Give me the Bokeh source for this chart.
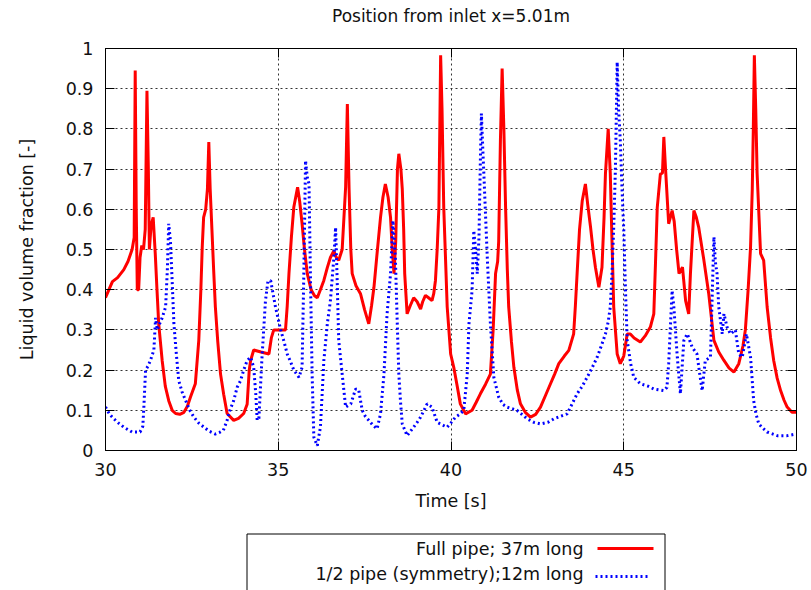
from bokeh.plotting import figure
from bokeh.layouts import column
from bokeh.models import LinearAxis, FixedTicker, NumeralTickFormatter, Range1d
from bokeh.core.properties import value
from bokeh.embed import file_html
from bokeh.resources import INLINE

FONT = "DejaVu Sans"

title_text = "Position from inlet x=5.01m"
x_label = "Time [s]"
y_label = "Liquid volume fraction [-]"
series_labels = ["Full pipe; 37m long", "1/2 pipe (symmetry);12m long"]
series_colors = ["#ff0000", "#0000ff"]
x_ticks = [30, 35, 40, 45, 50]
y_ticks = [0, 0.1, 0.2, 0.3, 0.4, 0.5, 0.6, 0.7, 0.8, 0.9, 1]

# Full pipe (red)
full_t = [30.00, 30.10, 30.20, 30.35, 30.53, 30.65, 30.77, 30.83, 30.86, 30.89, 30.92, 30.96,
          31.00, 31.05, 31.10, 31.15, 31.20, 31.24, 31.27, 31.32, 31.38, 31.44, 31.49, 31.54,
          31.64, 31.73, 31.83, 31.93, 32.03, 32.15, 32.27, 32.37, 32.46, 32.60, 32.70, 32.76,
          32.80, 32.84, 32.90, 32.95, 32.99, 33.03, 33.08, 33.13, 33.18, 33.25, 33.33, 33.42,
          33.52, 33.71, 33.85, 34.00, 34.10, 34.16, 34.20, 34.29, 34.50, 34.73, 34.80, 34.87,
          35.21, 35.26, 35.31, 35.38, 35.45, 35.56, 35.62, 35.69, 35.76, 35.84, 35.95, 36.05,
          36.13, 36.22, 36.32, 36.42, 36.51, 36.61, 36.68, 36.75, 36.85, 36.95, 37.00, 37.05,
          37.10, 37.14, 37.25, 37.38, 37.50, 37.62, 37.70, 37.77, 37.86, 37.96, 38.03, 38.10,
          38.18, 38.25, 38.30, 38.35, 38.40, 38.45, 38.49, 38.55, 38.59, 38.63, 38.66, 38.73,
          38.82, 38.92, 39.02, 39.12, 39.18, 39.26, 39.35, 39.45, 39.50, 39.55, 39.60, 39.65,
          39.70, 39.74, 39.79, 39.89, 39.99, 40.08, 40.18, 40.27, 40.42, 40.61, 40.73, 40.85,
          41.00, 41.14, 41.22, 41.29, 41.35, 41.38, 41.43, 41.48, 41.53, 41.58, 41.63, 41.67,
          41.75, 41.82, 41.92, 42.01, 42.15, 42.30, 42.45, 42.59, 42.75, 42.88, 43.00, 43.12,
          43.28, 43.41, 43.55, 43.60, 43.65, 43.72, 43.80, 43.89, 43.96, 44.04, 44.11, 44.18,
          44.28, 44.37, 44.43, 44.47, 44.55, 44.61, 44.66, 44.71, 44.81, 44.90, 45.00, 45.10,
          45.19, 45.30, 45.48, 45.62, 45.77, 45.87, 45.92, 45.97, 46.06, 46.12, 46.16, 46.21,
          46.30, 46.40, 46.46, 46.53, 46.60, 46.70, 46.79, 46.88, 46.93, 47.03, 47.10, 47.17,
          47.32, 47.46, 47.61, 47.75, 47.90, 48.05, 48.19, 48.33, 48.45, 48.52, 48.60, 48.67,
          48.72, 48.75, 48.78, 48.82, 48.86, 48.96, 49.05, 49.15, 49.25, 49.34, 49.44, 49.54,
          49.64, 49.73, 49.87, 50.00]
full_v = [0.380, 0.400, 0.420, 0.430, 0.450, 0.470, 0.500, 0.530, 0.945, 0.600, 0.400, 0.400,
          0.480, 0.510, 0.500, 0.550, 0.895, 0.700, 0.500, 0.560, 0.580, 0.490, 0.400, 0.315,
          0.224, 0.160, 0.124, 0.100, 0.092, 0.090, 0.095, 0.110, 0.133, 0.166, 0.274, 0.400,
          0.506, 0.580, 0.600, 0.650, 0.767, 0.650, 0.550, 0.450, 0.357, 0.270, 0.190, 0.140,
          0.092, 0.075, 0.080, 0.092, 0.115, 0.200, 0.224, 0.250, 0.245, 0.240, 0.280, 0.300,
          0.300, 0.360, 0.440, 0.530, 0.605, 0.655, 0.620, 0.564, 0.500, 0.440, 0.400, 0.385,
          0.380, 0.400, 0.423, 0.455, 0.480, 0.497, 0.480, 0.473, 0.500, 0.655, 0.862, 0.650,
          0.500, 0.440, 0.410, 0.390, 0.350, 0.315, 0.360, 0.406, 0.490, 0.580, 0.630, 0.663,
          0.630, 0.580, 0.500, 0.440, 0.520, 0.700, 0.738, 0.700, 0.650, 0.550, 0.440, 0.340,
          0.360, 0.380, 0.370, 0.352, 0.370, 0.386, 0.380, 0.373, 0.390, 0.423, 0.500, 0.605,
          0.983, 0.850, 0.605, 0.357, 0.240, 0.207, 0.160, 0.116, 0.091, 0.100, 0.120, 0.141,
          0.165, 0.190, 0.300, 0.440, 0.470, 0.520, 0.770, 0.950, 0.800, 0.605, 0.450, 0.357,
          0.270, 0.207, 0.150, 0.116, 0.095, 0.083, 0.090, 0.108, 0.140, 0.166, 0.190, 0.216,
          0.235, 0.249, 0.290, 0.360, 0.440, 0.550, 0.622, 0.663, 0.610, 0.555, 0.500, 0.456,
          0.406, 0.456, 0.580, 0.688, 0.800, 0.690, 0.520, 0.357, 0.240, 0.216, 0.235, 0.290,
          0.290, 0.280, 0.270, 0.285, 0.307, 0.340, 0.470, 0.605, 0.688, 0.690, 0.780, 0.700,
          0.564, 0.597, 0.570, 0.500, 0.440, 0.456, 0.373, 0.340, 0.440, 0.597, 0.580, 0.555,
          0.473, 0.390, 0.274, 0.245, 0.224, 0.205, 0.195, 0.216, 0.260, 0.300, 0.400, 0.506,
          0.650, 0.800, 0.983, 0.850, 0.690, 0.490, 0.473, 0.357, 0.280, 0.224, 0.180, 0.149,
          0.125, 0.108, 0.095, 0.095]

# Half pipe (blue)
half_t = [30.00, 30.12, 30.24, 30.38, 30.53, 30.65, 30.77, 31.00, 31.08, 31.11, 31.16, 31.23,
          31.30, 31.40, 31.45, 31.50, 31.54, 31.64, 31.74, 31.79, 31.83, 31.88, 31.93, 31.98,
          32.05, 32.12, 32.22, 32.32, 32.44, 32.56, 32.70, 32.85, 33.00, 33.18, 33.30, 33.41,
          33.52, 33.60, 33.71, 33.81, 33.91, 34.00, 34.10, 34.20, 34.29, 34.35, 34.39, 34.44,
          34.53, 34.63, 34.70, 34.78, 34.92, 35.07, 35.17, 35.26, 35.36, 35.45, 35.60, 35.69,
          35.74, 35.79, 35.84, 35.89, 35.93, 35.98, 36.03, 36.13, 36.22, 36.27, 36.32, 36.42,
          36.51, 36.61, 36.66, 36.70, 36.75, 36.85, 36.95, 37.10, 37.24, 37.33, 37.43, 37.52,
          37.62, 37.75, 37.86, 37.96, 38.06, 38.15, 38.25, 38.32, 38.39, 38.44, 38.49, 38.54,
          38.59, 38.73, 38.92, 39.02, 39.12, 39.22, 39.31, 39.45, 39.60, 39.79, 39.89, 40.01,
          40.13, 40.25, 40.37, 40.47, 40.52, 40.61, 40.66, 40.71, 40.76, 40.81, 40.85, 40.88,
          40.92, 40.95, 41.05, 41.14, 41.24, 41.38, 41.50, 41.62, 41.91, 42.05, 42.20, 42.40,
          42.59, 42.80, 42.98, 43.17, 43.36, 43.50, 43.65, 43.80, 43.94, 44.08, 44.23, 44.35,
          44.47, 44.55, 44.61, 44.66, 44.71, 44.76, 44.81, 44.85, 44.90, 44.95, 45.00, 45.05,
          45.10, 45.20, 45.29, 45.48, 45.70, 45.87, 46.16, 46.25, 46.30, 46.40, 46.45, 46.55,
          46.64, 46.74, 46.84, 46.98, 47.12, 47.20, 47.27, 47.36, 47.51, 47.55, 47.61, 47.65,
          47.70, 47.75, 47.85, 47.90, 47.99, 48.09, 48.23, 48.33, 48.43, 48.55, 48.67, 48.76,
          48.83, 48.91, 49.03, 49.15, 49.44, 49.73, 50.00]
half_v = [0.108, 0.090, 0.079, 0.068, 0.058, 0.052, 0.046, 0.046, 0.060, 0.108, 0.200, 0.210,
          0.224, 0.250, 0.330, 0.300, 0.310, 0.330, 0.357, 0.450, 0.564, 0.520, 0.420, 0.315,
          0.240, 0.174, 0.145, 0.124, 0.100, 0.083, 0.068, 0.058, 0.048, 0.041, 0.045, 0.050,
          0.075, 0.100, 0.124, 0.157, 0.174, 0.200, 0.224, 0.232, 0.207, 0.140, 0.075, 0.080,
          0.232, 0.373, 0.420, 0.423, 0.357, 0.300, 0.270, 0.240, 0.220, 0.200, 0.182, 0.207,
          0.440, 0.721, 0.680, 0.663, 0.440, 0.190, 0.033, 0.012, 0.058, 0.140, 0.224, 0.315,
          0.373, 0.480, 0.555, 0.440, 0.274, 0.190, 0.108, 0.116, 0.153, 0.150, 0.100, 0.085,
          0.075, 0.062, 0.054, 0.091, 0.190, 0.340, 0.440, 0.572, 0.480, 0.330, 0.190, 0.120,
          0.066, 0.037, 0.058, 0.070, 0.083, 0.100, 0.116, 0.108, 0.070, 0.062, 0.058, 0.070,
          0.083, 0.090, 0.100, 0.190, 0.315, 0.398, 0.547, 0.500, 0.440, 0.530, 0.721, 0.838,
          0.750, 0.690, 0.480, 0.315, 0.182, 0.133, 0.115, 0.108, 0.100, 0.090, 0.079, 0.070,
          0.066, 0.070, 0.079, 0.085, 0.091, 0.115, 0.141, 0.160, 0.182, 0.205, 0.232, 0.260,
          0.290, 0.320, 0.357, 0.440, 0.555, 0.705, 0.966, 0.850, 0.771, 0.650, 0.550, 0.398,
          0.274, 0.216, 0.182, 0.166, 0.160, 0.153, 0.149, 0.157, 0.216, 0.398, 0.357, 0.232,
          0.141, 0.274, 0.290, 0.257, 0.240, 0.190, 0.149, 0.224, 0.232, 0.357, 0.531, 0.470,
          0.440, 0.357, 0.290, 0.340, 0.307, 0.290, 0.300, 0.240, 0.232, 0.290, 0.232, 0.124,
          0.090, 0.066, 0.055, 0.046, 0.037, 0.037, 0.041]


def strip(height):
    """A blank strip whose data coordinates equal canvas pixels (frames are column-aligned)."""
    s = figure(width=811, height=height, output_backend="svg", toolbar_location=None,
               x_range=Range1d(105, 796), y_range=Range1d(height, 0),
               x_axis_type=None, y_axis_type=None,
               min_border_left=105, min_border_right=15, min_border_top=0, min_border_bottom=0)
    s.outline_line_color = None
    s.grid.visible = False
    s.background_fill_color = "white"
    s.border_fill_color = "white"
    return s


# ---------------- title strip ----------------
ts = strip(30)
ts.text(x=[450.5], y=[15], text=[title_text], text_align="center", text_baseline="middle",
        text_font=value(FONT), text_font_size=value("17px"), text_color="#111111")

# ---------------- main chart ----------------
p = figure(width=811, height=500, output_backend="svg", toolbar_location=None,
           x_range=Range1d(30, 50), y_range=Range1d(0, 1),
           min_border_left=105, min_border_right=15, min_border_top=18, min_border_bottom=80)
p.background_fill_color = "white"
p.border_fill_color = "white"
p.outline_line_color = "black"
p.outline_line_width = 1

p.xaxis.ticker = FixedTicker(ticks=x_ticks)
p.yaxis.ticker = FixedTicker(ticks=y_ticks)
p.yaxis.formatter = NumeralTickFormatter(format="0.[0]")
p.xaxis.axis_label = x_label
p.yaxis.axis_label = y_label
for ax in (p.xaxis[0], p.yaxis[0]):
    ax.major_label_text_font = FONT
    ax.major_label_text_font_size = "17.5px"
    ax.major_label_text_color = "#111111"
    ax.axis_label_text_font = FONT
    ax.axis_label_text_font_size = "17.5px"
    ax.axis_label_text_font_style = "normal"
    ax.axis_label_text_color = "#111111"
    ax.major_tick_in = 9
    ax.major_tick_out = 0
    ax.minor_tick_line_color = None
    ax.axis_line_color = "black"
    ax.major_tick_line_color = "black"
p.xaxis.major_label_standoff = 12
p.xaxis.axis_label_standoff = 12
p.yaxis.major_label_standoff = 12
p.yaxis.axis_label_standoff = 26

# mirror ticks on top and right (minor ticks only -> no labels)
top_ax = LinearAxis(ticker=FixedTicker(ticks=[], minor_ticks=x_ticks),
                    minor_tick_in=9, minor_tick_out=0, minor_tick_line_color="black",
                    major_tick_line_color=None, axis_line_color="black")
right_ax = LinearAxis(ticker=FixedTicker(ticks=[], minor_ticks=y_ticks),
                      minor_tick_in=9, minor_tick_out=0, minor_tick_line_color="black",
                      major_tick_line_color=None, axis_line_color="black")
p.add_layout(top_ax, "above")
p.add_layout(right_ax, "right")

p.grid.grid_line_color = "#333333"
p.grid.grid_line_dash = "2 3"
p.grid.grid_line_width = 1

p.line(full_t, full_v, line_color=series_colors[0], line_width=3)
p.line(half_t, half_v, line_color=series_colors[1], line_width=3, line_dash="2 3")

# ---------------- legend strip ----------------
lg = strip(60)
lg.quad(left=[246.5], right=[664.5], top=[3.5], bottom=[80], fill_color=None,
        line_color="black", line_width=1)
lg.text(x=[583, 583], y=[18, 43], text=series_labels, text_align="right",
        text_baseline="middle", text_font=value(FONT), text_font_size=value("17.5px"),
        text_color="#111111")
lg.line(x=[597, 653], y=[18, 18], line_color=series_colors[0], line_width=3)
lg.line(x=[595, 650], y=[46, 46], line_color=series_colors[1], line_width=3, line_dash="2 3")

layout = column(ts, p, lg, spacing=0)
open("out.html", "w").write(file_html(layout, INLINE))
